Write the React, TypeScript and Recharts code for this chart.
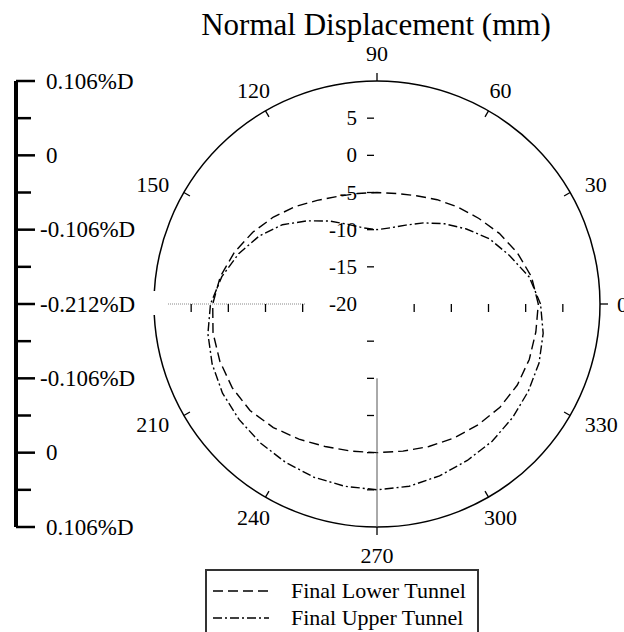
import React from "react"
import { RadarChart, Radar, PolarAngleAxis, PolarRadiusAxis, Legend, LineChart, Line, XAxis, YAxis } from "recharts"

const FONT = '"Liberation Serif", "Times New Roman", serif'

// polar layout (pixels)
const CX = 377
const CY = 304
const OUTER = 223

// angle in degrees, values in mm
const angles = [0, 10, 20, 30, 40, 50, 60, 70, 80, 90, 100, 110, 120, 130, 140, 150, 160, 170,
  180, 190, 200, 210, 220, 230, 240, 250, 260, 270, 280, 290, 300, 310, 320, 330, 340, 350]
const lowerTunnel = [1.7, 1.1, 0.1, -1.0, -2.1, -3.0, -3.8, -4.5, -4.9, -5.0, -4.9, -4.6, -3.9, -2.9, -1.8, -0.7, 0.4, 1.4,
  2.1, 2.4, 2.5, 2.5, 2.3, 1.7, 1.0, 0.4, 0.1, 0.0, 0.1, 0.4, 0.8, 1.2, 1.6, 1.8, 1.8, 1.7]
const upperTunnel = [2.0, 0.8, -1.0, -2.5, -4.3, -5.9, -7.4, -8.7, -9.6, -10.0, -9.6, -8.6, -7.1, -5.4, -3.4, -1.7, -0.2, 1.2,
  2.4, 3.1, 3.6, 4.0, 4.2, 4.4, 4.6, 4.8, 4.9, 5.0, 4.9, 4.6, 4.3, 4.1, 3.8, 3.5, 3.2, 2.7]

const angleTicks = [0, 30, 60, 90, 120, 150, 180, 210, 240, 270, 300, 330]
const angleTickLabels = ["0", "30", "60", "90", "120", "150", "", "210", "240", "270", "300", "330"]
const radiusTicks = [-20, -15, -10, -5, 0, 5]

// side scale bar
const scaleBarTicks = [30, 25, 20, 15, 10, 5, 0, -5, -10, -15, -20, -25, -30]
const scaleBarLabels = ["0.106%D", "", "0", "", "-0.106%D", "", "-0.212%D", "", "-0.106%D", "", "0", "", "0.106%D"]

const seriesNames = { lower: "Final Lower Tunnel", upper: "Final Upper Tunnel" }
const seriesDash = { lower: "10 5", upper: "9 3 2 3" }

const data = angles.map((angle, i) => ({ angle, lower: lowerTunnel[i], upper: upperTunnel[i] }))
const scaleData = scaleBarTicks.map((v, i) => ({ i, v }))

function AngleTick(props: any) {
  const a = Number(props.payload?.value) % 360
  const idx = angleTicks.indexOf(a)
  if (idx < 0 || Number(props.payload?.value) === 360) return <g />
  const label = angleTickLabels[idx]
  if (!label) return <g />
  const rad = (a * Math.PI) / 180
  const cos = Math.cos(rad)
  const sin = Math.sin(rad)
  const ac = Math.abs(cos)
  const r = ac > 0.7 ? 240 : ac > 0.1 ? 247 : 251
  const anchor = ac > 0.7 ? (cos > 0 ? "start" : "end") : "middle"
  const outward = a % 90 === 0
  const r1 = outward ? OUTER : OUTER - 7
  const r2 = outward ? OUTER + 8 : OUTER
  return (
    <g>
      <line x1={CX + r1 * cos} y1={CY - r1 * sin} x2={CX + r2 * cos} y2={CY - r2 * sin} stroke="#000" strokeWidth={1.3} />
      <text x={CX + r * cos} y={CY - r * sin} textAnchor={anchor} dominantBaseline="central"
        fontFamily={FONT} fontSize={22} fill="#000">{label}</text>
    </g>
  )
}

function RadiusTick(props: any) {
  const { x, y, payload } = props
  const value = payload.value
  const r = CY - y
  return (
    <g stroke="#000" strokeWidth={1.3}>
      {/* 90 deg axis: label and dash */}
      <text x={x - 20} y={y} textAnchor="end" dominantBaseline="central" fontFamily={FONT}
        fontSize={21} fill="#000" stroke="none">{value}</text>
      {r > 1 && <line x1={x - 10} x2={x - 3} y1={y} y2={y} />}
      {/* 0 deg axis */}
      {r > 1 && <line x1={CX + r} x2={CX + r} y1={CY} y2={CY + 8} />}
      {/* 180 deg axis */}
      {r > 40 && <line x1={CX - r} x2={CX - r} y1={CY} y2={CY + 8} />}
      {/* 270 deg axis */}
      {r > 1 && <line x1={CX - 10} x2={CX - 3} y1={CY + r} y2={CY + r} />}
      {value === -10 && <line x1={CX} x2={CX} y1={CY + r} y2={CY + OUTER} stroke="#555" strokeWidth={1} />}
      {value === -20 && (
        <>
          <line x1={CX - 209} x2={CX - 72} y1={CY} y2={CY} stroke="#888" strokeWidth={1} strokeDasharray="1 1" />
          {/* break in the outer ring at 180 */}
          <line x1={CX - OUTER} x2={CX - OUTER} y1={CY - 13} y2={CY + 11} stroke="#fff" strokeWidth={4} />
        </>
      )}
    </g>
  )
}

function BarTick(props: any) {
  const { y, payload } = props
  const idx = scaleBarTicks.indexOf(Number(payload.value))
  const label = scaleBarLabels[idx] ?? ""
  const major = Number(payload.value) % 10 === 0
  return (
    <g>
      <line x1={16} x2={major ? 35 : 31} y1={y} y2={y} stroke="#000" strokeWidth={2.5} />
      {label && (
        <text x={label.startsWith("-") ? 40 : 46} y={y} dominantBaseline="central" fontFamily={FONT}
          fontSize={23} fill="#000">{label}</text>
      )}
    </g>
  )
}

function LegendBox(props: any) {
  const items = (props.payload ?? []).length
    ? props.payload.map((p: any) => ({ key: String(p.dataKey), name: p.value }))
    : Object.keys(seriesNames).map((k) => ({ key: k, name: (seriesNames as any)[k] }))
  return (
    <div style={{
      width: 274, height: 80, boxSizing: "border-box", border: "2px solid #333", background: "#fff",
      fontFamily: FONT, fontSize: 22, color: "#000", paddingTop: 6,
    }}>
      {items.map((it: any) => (
        <div key={it.key} style={{ display: "flex", alignItems: "center", height: 27 }}>
          <svg width={78} height={10} style={{ marginLeft: 6 }}>
            <line x1={0} x2={56} y1={5} y2={5} stroke="#000" strokeWidth={1.3}
              strokeDasharray={(seriesDash as any)[it.key]} />
          </svg>
          <span>{it.name}</span>
        </div>
      ))}
    </div>
  )
}

export default function App() {
  return (
    <div style={{ position: "absolute", left: 0, top: 0, width: 624, height: 632, background: "#fff", overflow: "hidden" }}>
      <div style={{
        position: "absolute", left: 176, top: 7, width: 400, textAlign: "center",
        fontFamily: FONT, fontSize: 31, lineHeight: "36px", color: "#000",
      }}>
        Normal Displacement (mm)
      </div>
      <div style={{ position: "absolute", left: 0, top: 0 }}>
        <RadarChart width={624} height={632} data={data} cx={CX} cy={CY} outerRadius={OUTER} innerRadius={0}
          startAngle={0} endAngle={360} margin={{ top: 0, right: 0, bottom: 0, left: 0 }}>
          <PolarAngleAxis dataKey="angle" type="number" domain={[0, 360]} ticks={angleTicks as any} tickCount={13}
            axisLineType="circle" axisLine={{ stroke: "#000", strokeWidth: 1.5 }} tickLine={false} tick={AngleTick} />
          <PolarRadiusAxis angle={90} type="number" domain={[-20, 10]} allowDataOverflow ticks={radiusTicks as any}
            axisLine={false} tickLine={false} tick={RadiusTick} />
          <Radar dataKey="lower" name={seriesNames.lower} stroke="#000" strokeWidth={1.4} fill="none" fillOpacity={0}
            strokeDasharray={seriesDash.lower} dot={false} isAnimationActive={false} />
          <Radar dataKey="upper" name={seriesNames.upper} stroke="#000" strokeWidth={1.4} fill="none" fillOpacity={0}
            strokeDasharray={seriesDash.upper} dot={false} isAnimationActive={false} />
          <Legend content={LegendBox} wrapperStyle={{ position: "absolute", left: 205, top: 569, bottom: "auto", width: 274 }} />
        </RadarChart>
      </div>
      <div style={{ position: "absolute", left: 0, top: 0 }}>
        <LineChart width={170} height={632} data={scaleData}
          margin={{ top: CY - OUTER, bottom: 632 - (CY + OUTER), left: 0, right: 0 }}>
          <XAxis dataKey="i" hide />
          <YAxis orientation="right" type="number" domain={[-30, 30]} ticks={scaleBarTicks} interval={0} width={154}
            allowDataOverflow axisLine={{ stroke: "#000", strokeWidth: 4 }} tickLine={false} tick={BarTick} />
          <Line dataKey="v" stroke="none" dot={false} activeDot={false} legendType="none" isAnimationActive={false} />
        </LineChart>
      </div>
    </div>
  )
}
